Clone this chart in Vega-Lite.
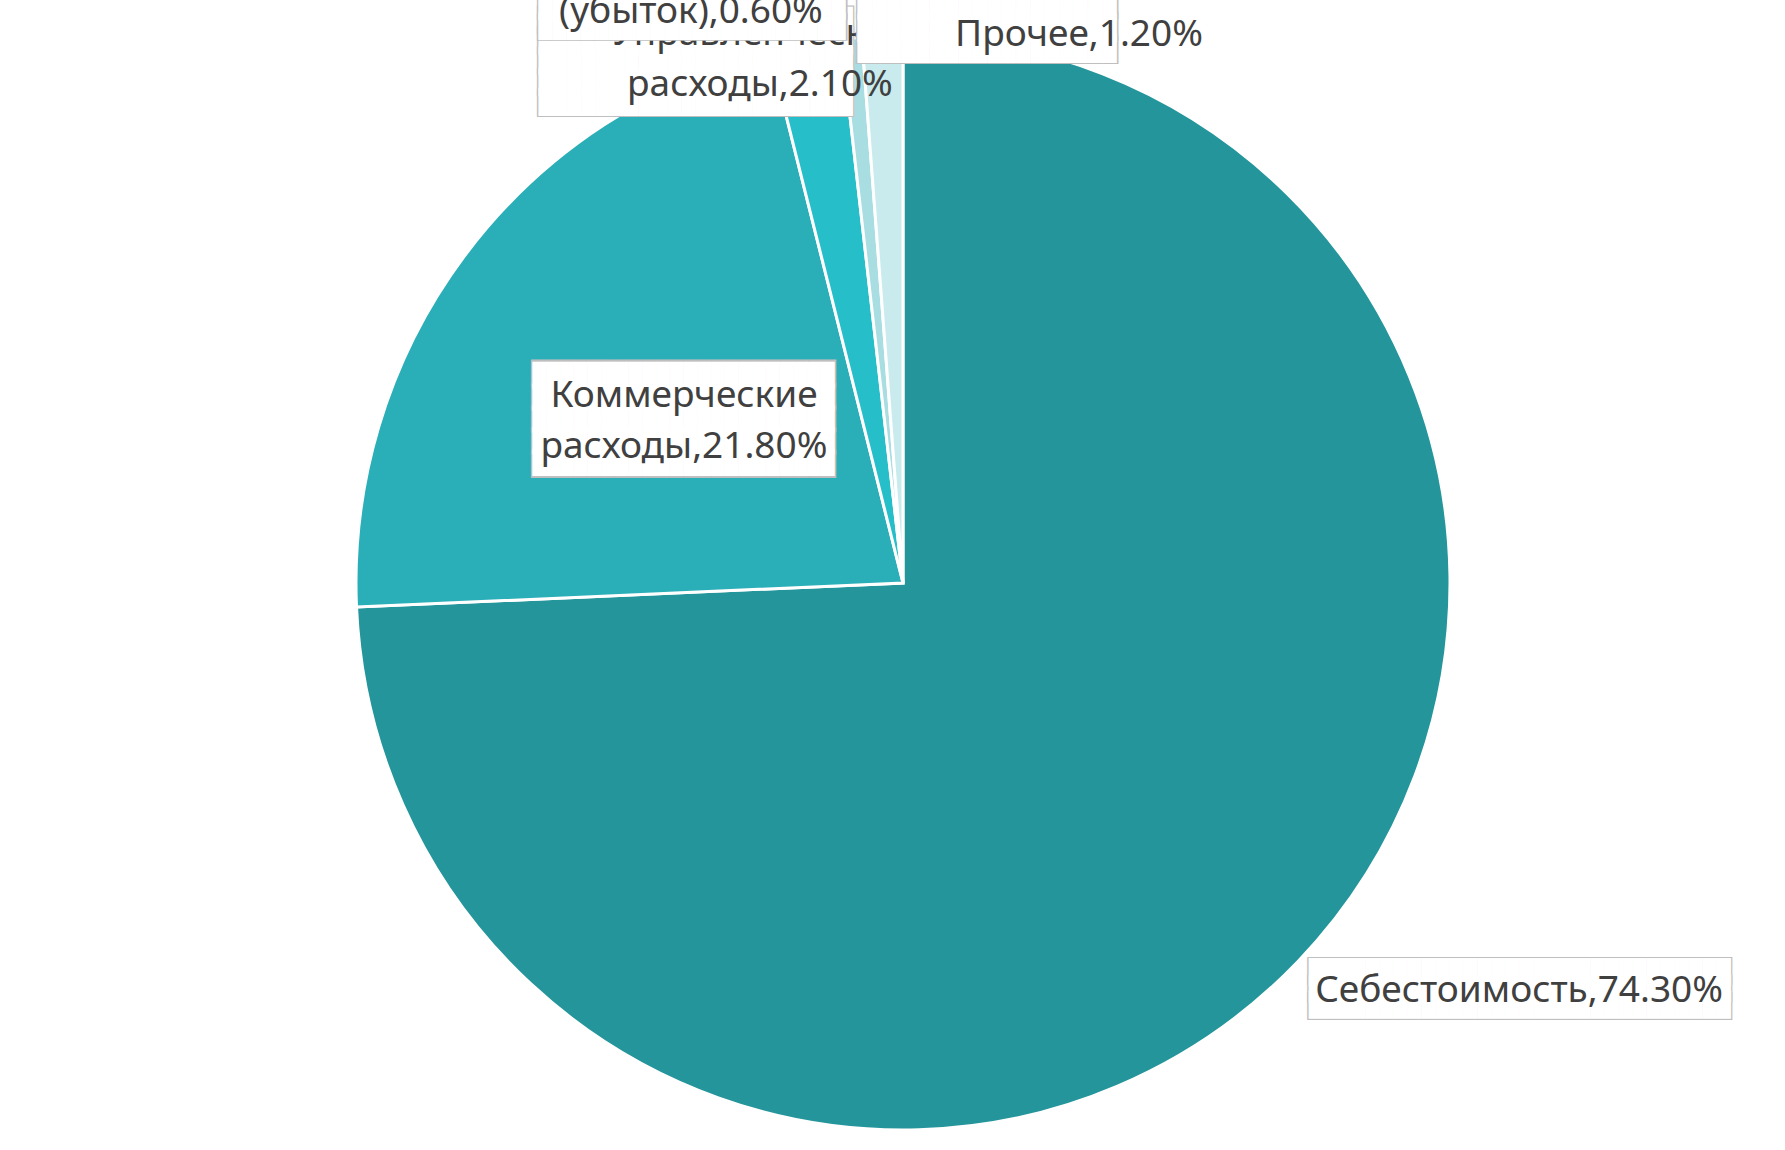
{
  "$schema": "https://vega.github.io/schema/vega-lite/v6.json",
  "width": 1788,
  "height": 1154,
  "autosize": "none",
  "padding": {"left": 9, "top": 6, "right": 0, "bottom": 0},
  "background": "white",
  "config": {"view": {"stroke": "#D9D9D9", "strokeWidth": 1.5}},
  "data": {
    "values": [
      {"k": 1, "name": "Себестоимость", "pct": 74.3, "label": "Себестоимость,74.30%"},
      {"k": 2, "name": "Коммерческие расходы", "pct": 21.8, "label": ["Коммерческие", "расходы,21.80%"]},
      {"k": 3, "name": "Управленческие расходы", "pct": 2.1, "label": ["Управленческие", "расходы,2.10%"]},
      {"k": 4, "name": "Чистая прибыль (убыток)", "pct": 0.6, "label": ["Чистая прибыль", "(убыток),0.60%"]},
      {"k": 5, "name": "Прочее", "pct": 1.2, "label": "Прочее,1.20%"}
    ]
  },
  "encoding": {
    "theta": {"field": "pct", "type": "quantitative", "stack": true},
    "order": {"field": "k", "type": "quantitative"}
  },
  "layer": [
    {
      "mark": {"type": "arc", "outerRadius": 547, "stroke": "white", "strokeWidth": 3},
      "encoding": {
        "color": {
          "field": "name", "type": "nominal", "legend": null,
          "scale": {
            "domain": ["Себестоимость", "Коммерческие расходы", "Управленческие расходы", "Чистая прибыль (убыток)", "Прочее"],
            "range": ["#24959B", "#2AAEB8", "#26BEC8", "#A8DDE2", "#C9EBEE"]
          }
        }
      }
    },
    {
      "mark": {"type": "text", "font": "DejaVu Sans Mono", "fontSize": 23.94, "lineHeight": 20.8, "radius": 560, "dx": -107.8, "dy": -11.1, "fill": "#BFBFBF", "align": "center", "baseline": "middle"},
      "encoding": {"text": {"condition": {"test": "datum.k == 3", "value": ["██████████████████████", "██████████████████████", "██████████████████████", "██████████████████████", "██████████████████████"]}, "value": ""}}
    },
    {
      "mark": {"type": "text", "font": "DejaVu Sans Mono", "fontSize": 23.71, "lineHeight": 20.1, "radius": 560, "dx": -107.8, "dy": -9.7, "fill": "#FFFFFF", "align": "center", "baseline": "middle"},
      "encoding": {"text": {"condition": {"test": "datum.k == 3", "value": ["██████████████████████", "██████████████████████", "██████████████████████", "██████████████████████", "██████████████████████"]}, "value": ""}}
    },
    {
      "mark": {"type": "text", "font": "Noto Sans", "fontSize": 37, "lineHeight": 51, "radius": 560, "dx": -43.3, "dy": 2, "fill": "#404040", "align": "center", "baseline": "middle"},
      "encoding": {"text": {"condition": {"test": "datum.k == 3", "field": "label"}, "value": ""}}
    },
    {
      "mark": {"type": "text", "font": "DejaVu Sans Mono", "fontSize": 23.41, "lineHeight": 20.94, "radius": 560, "dx": -158.3, "dy": -80.9, "fill": "#BFBFBF", "align": "center", "baseline": "middle"},
      "encoding": {"text": {"condition": {"test": "datum.k == 4", "value": ["██████████████████████", "██████████████████████", "██████████████████████", "██████████████████████", "██████████████████████"]}, "value": ""}}
    },
    {
      "mark": {"type": "text", "font": "DejaVu Sans Mono", "fontSize": 23.18, "lineHeight": 20.26, "radius": 560, "dx": -158.3, "dy": -79.5, "fill": "#FFFFFF", "align": "center", "baseline": "middle"},
      "encoding": {"text": {"condition": {"test": "datum.k == 4", "value": ["██████████████████████", "██████████████████████", "██████████████████████", "██████████████████████", "██████████████████████"]}, "value": ""}}
    },
    {
      "mark": {"type": "text", "font": "Noto Sans", "fontSize": 37, "lineHeight": 51, "radius": 560, "dx": -159.3, "dy": -64.5, "fill": "#404040", "align": "center", "baseline": "middle"},
      "encoding": {"text": {"condition": {"test": "datum.k == 4", "field": "label"}, "value": ""}}
    },
    {
      "mark": {"type": "text", "font": "DejaVu Sans Mono", "fontSize": 24.18, "lineHeight": 22.4, "radius": 560, "dx": 105.1, "dy": -17.3, "fill": "#BFBFBF", "align": "center", "baseline": "middle"},
      "encoding": {"text": {"condition": {"test": "datum.k == 5", "value": ["██████████████████", "██████████████████", "██████████████████"]}, "value": ""}}
    },
    {
      "mark": {"type": "text", "font": "DejaVu Sans Mono", "fontSize": 23.9, "lineHeight": 21.1, "radius": 560, "dx": 105.1, "dy": -16, "fill": "#FFFFFF", "align": "center", "baseline": "middle"},
      "encoding": {"text": {"condition": {"test": "datum.k == 5", "value": ["██████████████████", "██████████████████", "██████████████████"]}, "value": ""}}
    },
    {
      "mark": {"type": "text", "font": "Noto Sans", "fontSize": 37, "lineHeight": 51, "radius": 560, "dx": 197.1, "dy": 11.6, "fill": "#404040", "align": "center", "baseline": "middle"},
      "encoding": {"text": {"condition": {"test": "datum.k == 5", "field": "label"}, "value": ""}}
    },
    {
      "mark": {"type": "text", "font": "DejaVu Sans Mono", "fontSize": 23.53, "lineHeight": 17.8, "radius": 600, "dx": 183.1, "dy": -26.1, "fill": "#BFBFBF", "align": "center", "baseline": "middle"},
      "encoding": {"text": {"condition": {"test": "datum.k == 1", "value": ["██████████████████████████████", "██████████████████████████████", "██████████████████████████████"]}, "value": ""}}
    },
    {
      "mark": {"type": "text", "font": "DejaVu Sans Mono", "fontSize": 23.37, "lineHeight": 16.4, "radius": 600, "dx": 183.1, "dy": -24.7, "fill": "#FFFFFF", "align": "center", "baseline": "middle"},
      "encoding": {"text": {"condition": {"test": "datum.k == 1", "value": ["██████████████████████████████", "██████████████████████████████", "██████████████████████████████"]}, "value": ""}}
    },
    {
      "mark": {"type": "text", "font": "Noto Sans", "fontSize": 37, "lineHeight": 51, "radius": 600, "dx": 182.6, "dy": -7, "fill": "#404040", "align": "center", "baseline": "middle"},
      "encoding": {"text": {"condition": {"test": "datum.k == 1", "field": "label"}, "value": ""}}
    },
    {
      "mark": {"type": "text", "font": "DejaVu Sans Mono", "fontSize": 23.03, "lineHeight": 22.55, "radius": 274, "dx": 0.1, "dy": -44.8, "fill": "#BFBFBF", "align": "center", "baseline": "middle"},
      "encoding": {"text": {"condition": {"test": "datum.k == 2", "value": ["██████████████████████", "██████████████████████", "██████████████████████", "██████████████████████", "██████████████████████"]}, "value": ""}}
    },
    {
      "mark": {"type": "text", "font": "DejaVu Sans Mono", "fontSize": 22.8, "lineHeight": 21.87, "radius": 274, "dx": 0.1, "dy": -43.4, "fill": "#FFFFFF", "align": "center", "baseline": "middle"},
      "encoding": {"text": {"condition": {"test": "datum.k == 2", "value": ["██████████████████████", "██████████████████████", "██████████████████████", "██████████████████████", "██████████████████████"]}, "value": ""}}
    },
    {
      "mark": {"type": "text", "font": "Noto Sans", "fontSize": 37, "lineHeight": 51, "radius": 274, "dx": 0.6, "dy": -23.2, "fill": "#404040", "align": "center", "baseline": "middle"},
      "encoding": {"text": {"condition": {"test": "datum.k == 2", "field": "label"}, "value": ""}}
    }
  ]
}
